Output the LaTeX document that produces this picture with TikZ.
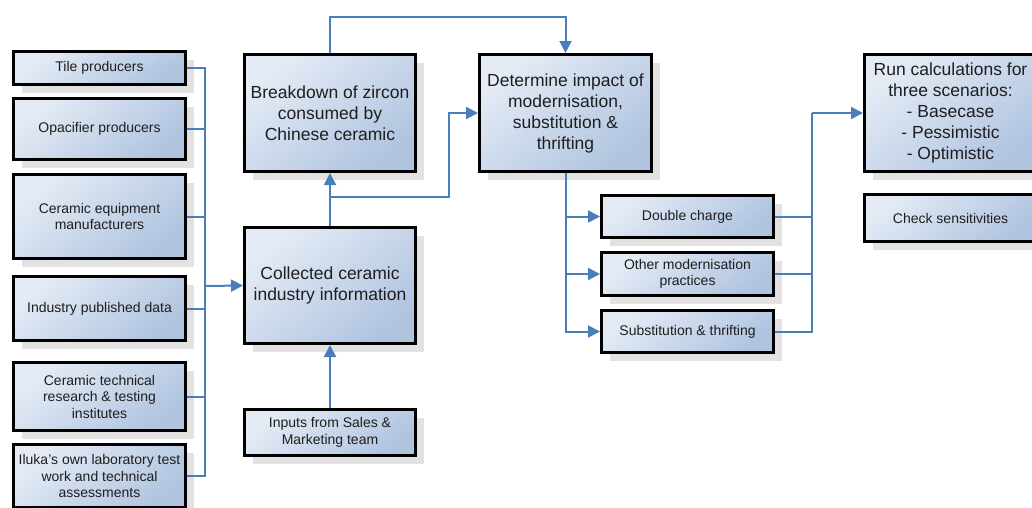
\documentclass[tikz,border=0pt]{standalone}
\usepackage{fontspec}
\setmainfont{Liberation Sans}
\usetikzlibrary{arrows.meta,shadows}
\definecolor{boxlight}{HTML}{E4EBF5}
\definecolor{boxdark}{HTML}{B0C4E0}
\definecolor{linkblue}{HTML}{4A7EBB}
\definecolor{shadowgray}{HTML}{E2E2E2}
\definecolor{inkgray}{HTML}{1E1E1E}
\tikzset{
  box/.style={draw=black, line width=3pt, top color=boxlight, bottom color=boxdark,
    shading angle=40, align=center, text=inkgray, inner sep=2pt,
    general shadow={fill=shadowgray, shadow xshift=8pt, shadow yshift=-8pt}},
  bigtext/.style={font=\fontsize{17.5}{21}\selectfont},
  smalltext/.style={font=\fontsize{14}{16.5}\selectfont},
  conn/.style={draw=linkblue, line width=2pt},
  arr/.style={conn, -{Triangle[length=12pt,width=12pt]}}
}
\begin{document}
\begin{tikzpicture}[x=1pt,y=-1pt]
\useasboundingbox (0,0) rectangle (1032,507);

% source boxes on the left
\node[box,smalltext,minimum width=172,minimum height=33] (tile) at (99.5,68) {Tile producers};
\node[box,smalltext,minimum width=172,minimum height=61] (opac) at (99.5,129) {Opacifier producers};
\node[box,smalltext,minimum width=172,minimum height=84] (equip) at (99.5,216.5) {Ceramic equipment\\manufacturers};
\node[box,smalltext,minimum width=172,minimum height=64] (indus) at (99.5,308.5) {Industry published data};
\node[box,smalltext,minimum width=172,minimum height=68] (tech) at (99.5,396.5) {Ceramic technical\\research \& testing\\institutes};
\node[box,smalltext,minimum width=172,minimum height=63] (iluka) at (99.5,476) {Iluka's own laboratory test\\work and technical\\assessments};

% middle column
\node[box,bigtext,minimum width=171,minimum height=116] (collected) at (330,285.5) {Collected ceramic\\industry information};
\node[box,smalltext,minimum width=171,minimum height=46] (inputs) at (330,432.5) {Inputs from Sales \&\\Marketing team};
\node[box,bigtext,minimum width=171,minimum height=117] (breakdown) at (330,113) {Breakdown of zircon\\consumed by\\Chinese ceramic};

% impact analysis
\node[box,bigtext,minimum width=172,minimum height=117] (determine) at (565.5,113) {Determine impact of\\modernisation,\\substitution \&\\thrifting};
\node[box,smalltext,minimum width=172,minimum height=42] (double) at (687.5,216.5) {Double charge};
\node[box,smalltext,minimum width=172,minimum height=43] (other) at (687.5,274) {Other modernisation\\practices};
\node[box,smalltext,minimum width=172,minimum height=42] (subst) at (687.5,331.5) {Substitution \& thrifting};

% scenario boxes on the right
\node[box,bigtext,minimum width=172,minimum height=117] (runcalc) at (950.5,113) {Run calculations for\\three scenarios:\\- Basecase\\- Pessimistic\\- Optimistic};
\node[box,smalltext,minimum width=172,minimum height=47] (check) at (950.5,218) {Check sensitivities};

% left collector bus
\coordinate (busL) at (205,286);
\foreach \n in {tile,opac,equip,indus,tech,iluka}
  \draw[conn] (\n.east) -| (busL);
\draw[arr] (busL) -- (collected.west);

\draw[arr] (inputs.north) -- (collected.south);
\draw[arr] (collected.north) -- (breakdown.south);

% branch from the collected information to the impact step
\coordinate (j1) at (330,197);
\coordinate (k1) at (449,197);
\draw[arr] (j1) -- (k1) |- (determine.west);

% loop over the top
\draw[arr] (breakdown.north) -- ++(0,-36) -| (determine.north);

% impact step fans out
\foreach \n in {double,other,subst}
  \draw[arr] (determine.south) |- (\n.west);

% right collector bus
\coordinate (busR) at (812,113);
\foreach \n in {double,other,subst}
  \draw[conn] (\n.east) -| (busR);
\draw[arr] (busR) -- (runcalc.west);
\end{tikzpicture}
\end{document}
